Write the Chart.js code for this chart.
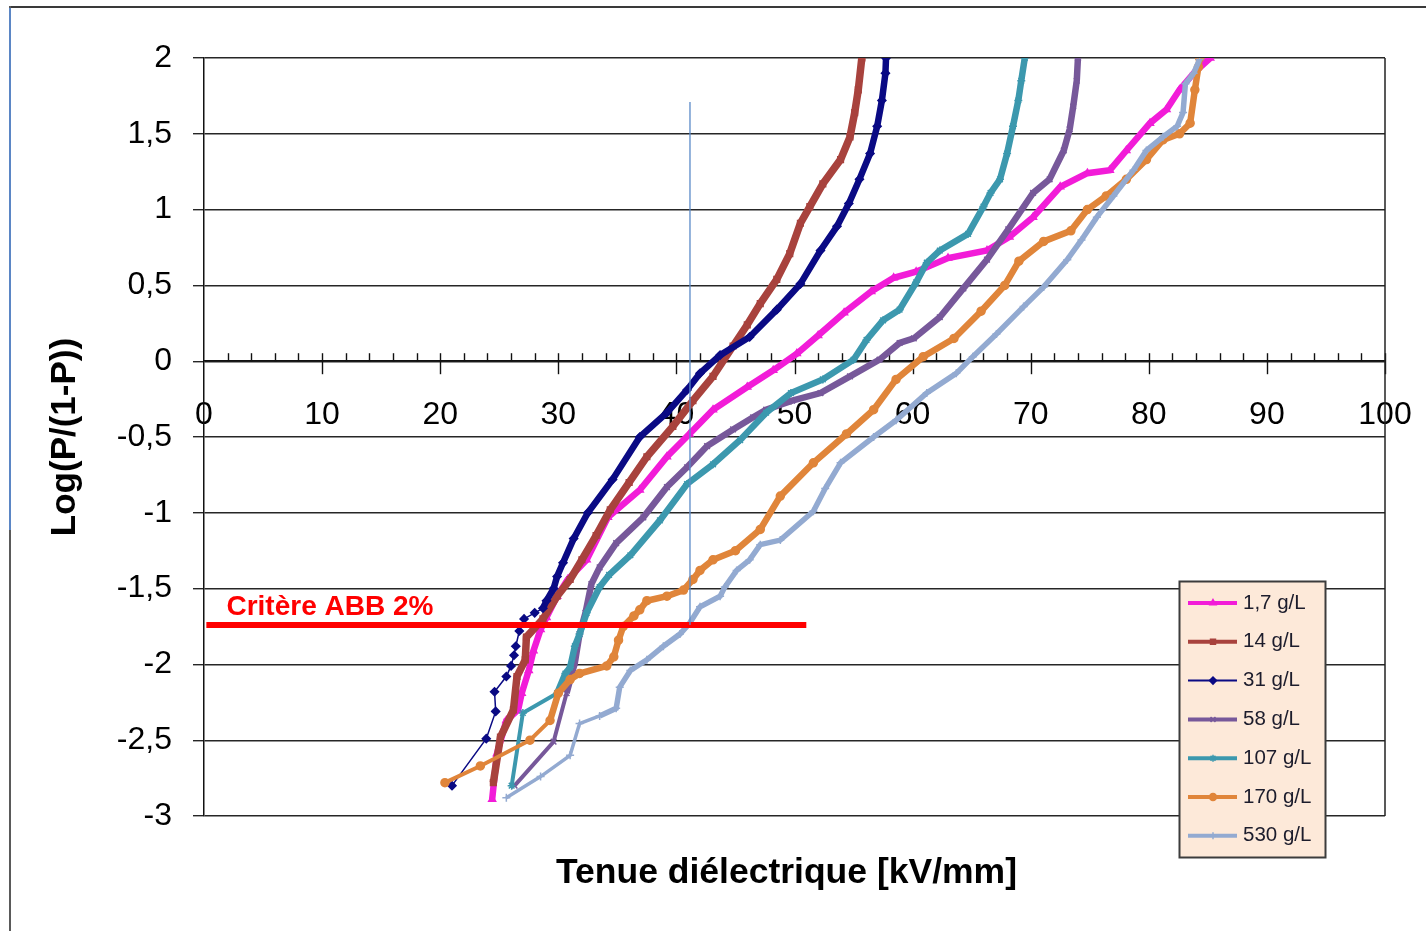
<!DOCTYPE html>
<html>
<head>
<meta charset="utf-8">
<script src="https://cdn.jsdelivr.net/npm/chart.js@4.4.1/dist/chart.umd.min.js"></script>
<style>
  html, body { margin: 0; padding: 0; background: #fff; }
  #wrap { position: relative; width: 1426px; height: 931px; overflow: hidden; background: #fff; }
  #wrap canvas { position: absolute; left: 0; top: 0; }
  .frame { position: absolute; }
  #frameTop { left: 9px; top: 6px; width: 1417px; height: 2px; background: #3a3a3a; }
  #frameLeft { left: 9px; top: 6px; width: 2px; height: 925px; background: #5a5a5a; }
  #frameLeftBlue { left: 9px; top: 8px; width: 2px; height: 522px; background: #5b86c5; }
</style>
</head>
<body>
<div id="wrap">
  <canvas id="myChart" width="1426" height="931"></canvas>
  <div class="frame" id="frameTop"></div>
  <div class="frame" id="frameLeft"></div>
  <div class="frame" id="frameLeftBlue"></div>
</div>
<script>
const seriesNames = ["1,7 g/L", "14 g/L", "31 g/L", "58 g/L", "107 g/L", "170 g/L", "530 g/L"];

// 1,7 g/L
const x17 = [24.4, 24.8, 25.6, 26.6, 26.9, 27.5, 27.9, 28.5, 29.0, 29.9, 30.8, 32.4, 34.2, 36.9, 39.2, 41.1, 43.1, 46.0, 48.2, 50.2, 52.0, 54.2, 56.5, 58.4, 60.3, 63.0, 66.3, 68.2, 70.2, 72.5, 74.8, 76.7, 78.1, 80.1, 81.5, 82.6, 83.8, 85.2];
const y17 = [-2.89, -2.59, -2.37, -2.30, -2.19, -2.04, -1.91, -1.77, -1.69, -1.55, -1.44, -1.31, -1.03, -0.85, -0.63, -0.48, -0.32, -0.17, -0.06, 0.05, 0.17, 0.32, 0.46, 0.55, 0.59, 0.68, 0.73, 0.82, 0.95, 1.15, 1.24, 1.26, 1.39, 1.57, 1.66, 1.79, 1.90, 2.0];

// 14 g/L
const x14 = [24.5, 25.1, 26.2, 26.5, 27.2, 27.3, 28.7, 29.9, 31.0, 32.0, 33.2, 34.4, 36.0, 37.5, 39.7, 41.4, 43.1, 44.8, 46.0, 47.1, 48.5, 49.6, 50.5, 51.3, 52.4, 53.9, 54.7, 55.1, 55.4, 55.7];
const y14 = [-2.78, -2.48, -2.30, -2.08, -1.97, -1.82, -1.70, -1.55, -1.44, -1.31, -1.15, -0.98, -0.80, -0.63, -0.43, -0.26, -0.10, 0.10, 0.24, 0.38, 0.54, 0.71, 0.91, 1.02, 1.17, 1.33, 1.48, 1.64, 1.79, 2.0];

// 31 g/L
const x31 = [21.0, 23.9, 24.7, 24.6, 25.6, 26.0, 26.25, 26.4, 26.7, 27.1, 28.0, 28.7, 29.0, 29.6, 29.9, 30.4, 31.3, 32.5, 34.6, 36.9, 39.2, 40.9, 42.0, 43.7, 46.2, 48.5, 50.5, 52.2, 53.6, 54.6, 55.5, 56.4, 57.0, 57.4, 57.7, 57.75];
const y31 = [-2.80, -2.49, -2.31, -2.18, -2.08, -2.01, -1.94, -1.88, -1.78, -1.70, -1.66, -1.63, -1.58, -1.50, -1.42, -1.33, -1.17, -1.0, -0.78, -0.50, -0.34, -0.19, -0.08, 0.04, 0.16, 0.34, 0.51, 0.73, 0.89, 1.04, 1.20, 1.37, 1.55, 1.72, 1.90, 2.0];

// 58 g/L
const x58 = [26.3, 29.6, 30.7, 31.4, 31.8, 32.3, 32.8, 33.5, 34.9, 37.2, 39.2, 40.9, 42.6, 44.8, 46.5, 47.6, 49.8, 52.2, 54.7, 57.2, 58.9, 60.1, 62.3, 64.3, 66.3, 68.1, 70.2, 71.6, 72.8, 73.3, 73.6, 73.9, 74.0];
const y58 = [-2.80, -2.51, -2.19, -1.99, -1.80, -1.66, -1.47, -1.36, -1.20, -1.03, -0.83, -0.70, -0.56, -0.45, -0.37, -0.32, -0.26, -0.21, -0.10, 0.01, 0.12, 0.15, 0.29, 0.48, 0.67, 0.87, 1.11, 1.20, 1.39, 1.53, 1.68, 1.85, 2.0];

// 107 g/L
const x107 = [26.05, 27.0, 29.9, 30.6, 31.0, 31.4, 31.8, 32.4, 33.5, 34.3, 36.1, 38.6, 40.9, 43.1, 45.4, 47.6, 49.7, 52.4, 55.0, 56.1, 57.5, 58.9, 60.3, 61.2, 62.3, 64.7, 66.0, 66.6, 67.4, 68.0, 68.5, 68.95, 69.2, 69.5];
const y107 = [-2.80, -2.32, -2.19, -2.06, -2.02, -1.88, -1.80, -1.66, -1.49, -1.41, -1.28, -1.05, -0.81, -0.68, -0.52, -0.34, -0.21, -0.12, 0.01, 0.14, 0.27, 0.34, 0.52, 0.65, 0.73, 0.84, 1.02, 1.11, 1.20, 1.37, 1.55, 1.72, 1.85, 2.0];

// 170 g/L
const x170 = [20.4, 23.4, 27.6, 29.3, 30.0, 31.0, 31.8, 34.1, 34.7, 35.1, 35.5, 36.4, 36.9, 37.5, 39.2, 40.6, 41.4, 42.0, 43.1, 45.0, 47.1, 48.8, 51.6, 54.4, 56.7, 58.6, 60.9, 63.5, 65.8, 67.8, 69.0, 71.1, 73.4, 74.8, 76.4, 78.1, 79.8, 81.2, 82.6, 83.5, 83.9, 84.2, 84.3];
const y170 = [-2.78, -2.67, -2.50, -2.37, -2.19, -2.10, -2.06, -2.01, -1.95, -1.84, -1.75, -1.68, -1.64, -1.58, -1.55, -1.51, -1.44, -1.38, -1.31, -1.25, -1.11, -0.89, -0.67, -0.48, -0.32, -0.12, 0.03, 0.15, 0.33, 0.50, 0.66, 0.79, 0.86, 1.0, 1.09, 1.20, 1.33, 1.46, 1.50, 1.57, 1.79, 1.94, 2.0];

// 530 g/L
const x530 = [25.6, 28.5, 31.0, 31.8, 33.5, 34.9, 35.2, 36.1, 37.5, 38.9, 40.3, 41.1, 42.0, 43.7, 44.1, 45.1, 46.2, 47.1, 48.8, 51.6, 52.6, 53.9, 56.7, 58.6, 61.2, 63.7, 65.1, 67.1, 69.4, 71.1, 73.1, 74.3, 75.6, 77.0, 78.7, 79.8, 81.2, 82.4, 82.9, 83.1, 83.8, 84.3];
const y530 = [-2.88, -2.74, -2.60, -2.39, -2.34, -2.29, -2.15, -2.04, -1.97, -1.88, -1.80, -1.73, -1.62, -1.55, -1.49, -1.38, -1.31, -1.21, -1.18, -0.99, -0.84, -0.67, -0.50, -0.39, -0.21, -0.08, 0.03, 0.18, 0.36, 0.49, 0.67, 0.80, 0.95, 1.09, 1.26, 1.39, 1.48, 1.55, 1.64, 1.83, 1.90, 1.99];

// critère ABB 2% et repère vertical
const abbX = [0.2, 51];
const abbY = [-1.74, -1.74];
const markX = [41.15, 41.15];
const markY = [1.71, -1.74];

const xMin = 0, xMax = 100, xStep = 10, xMinorStep = 2;
const yMin = -3, yMax = 2, yStep = 0.5;

const seriesX = [x17, x14, x31, x58, x107, x170, x530];
const seriesY = [y17, y14, y31, y58, y107, y170, y530];

const styles = [
  { color: "#f21cd8", point: "triangle", width: 6.5, radius: 4 },
  { color: "#a8423d", point: "rect", width: 7.5, radius: 4 },
  { color: "#0a0a84", point: "rectRot", width: 6.5, radius: 4, thinBelow: -1.62, thin: 1.5 },
  { color: "#77589a", point: "crossRot", width: 6.5, radius: 4, thinBelow: -2.15, thin: 4 },
  { color: "#3c98ae", point: "star", width: 6.5, radius: 4, thinBelow: -2.15, thin: 4 },
  { color: "#e0853a", point: "circle", width: 6.5, radius: 4, thinBelow: -2.2, thin: 4 },
  { color: "#93aad1", point: "cross", width: 5.5, radius: 4, thinBelow: -2.3, thin: 3.5 },
];

const FONT = "'Liberation Sans', Arial, sans-serif";

const toPoints = (xs, ys) => xs.map((x, i) => ({ x: x, y: ys[i] }));

const datasets = seriesNames.map((name, i) => {
  const st = styles[i];
  return {
    label: name,
    data: toPoints(seriesX[i], seriesY[i]),
    borderColor: st.color,
    backgroundColor: st.color,
    borderWidth: st.width,
    pointStyle: st.point,
    pointRadius: st.radius,
    pointBorderWidth: 1.5,
    pointBackgroundColor: st.color,
    pointBorderColor: st.color,
    tension: 0,
    order: 20 - i,
    segment: {
      borderWidth: (c) =>
        st.thinBelow !== undefined && Math.max(c.p0.parsed.y, c.p1.parsed.y) < st.thinBelow ? st.thin : st.width,
    },
  };
});

datasets.push({
  label: "Critère ABB 2%",
  data: toPoints(abbX, abbY),
  borderColor: "#ff0000",
  borderWidth: 6,
  pointRadius: 0,
  order: 1,
});
datasets.push({
  label: "repere",
  data: toPoints(markX, markY),
  borderColor: "#5b8ac8",
  borderWidth: 1.3,
  pointRadius: 0,
  order: 0,
});

// petits traits de graduation sur l'axe horizontal (y = 0)
const axisTicks = {
  id: "axisTicks",
  beforeDatasetsDraw(chart) {
    const { ctx, chartArea, scales } = chart;
    const x = scales.x;
    const y = scales.y;
    const py = y.getPixelForValue(0);
    ctx.save();
    ctx.strokeStyle = "#111";
    ctx.lineWidth = 1.4;
    for (let v = xMin + xMinorStep; v <= xMax; v += xMinorStep) {
      const px = Math.round(x.getPixelForValue(v)) + 0.5;
      ctx.beginPath();
      ctx.moveTo(px, py - 8);
      ctx.lineTo(px, v % xStep === 0 ? py + 13 : py);
      ctx.stroke();
    }
    // bord droit de la zone de tracé
    ctx.strokeStyle = "#222";
    ctx.lineWidth = 1.5;
    ctx.beginPath();
    ctx.moveTo(chartArea.right, chartArea.top);
    ctx.lineTo(chartArea.right, chartArea.bottom);
    ctx.stroke();
    ctx.restore();
  },
};

// légende, titre de l'axe x, texte du critère
const extras = {
  id: "extras",
  afterDraw(chart) {
    const { ctx, chartArea, scales } = chart;
    ctx.save();

    // titre axe x
    ctx.fillStyle = "#000";
    ctx.font = "bold 35.5px " + FONT;
    ctx.textAlign = "center";
    ctx.textBaseline = "alphabetic";
    ctx.fillText("Tenue diélectrique [kV/mm]", (chartArea.left + chartArea.right) / 2 - 8, 883);

    // texte critère
    ctx.fillStyle = "#ff0000";
    ctx.font = "bold 28px " + FONT;
    ctx.textAlign = "left";
    ctx.fillText("Critère ABB 2%", scales.x.getPixelForValue(1.9), 615);

    // légende
    const bx = 1179.5, by = 581.5, bw = 146, bh = 276;
    ctx.fillStyle = "#fde9d9";
    ctx.fillRect(bx, by, bw, bh);
    ctx.strokeStyle = "#3c3c3c";
    ctx.lineWidth = 2;
    ctx.strokeRect(bx, by, bw, bh);

    ctx.font = "20.5px " + FONT;
    ctx.textBaseline = "middle";
    seriesNames.forEach((name, i) => {
      const st = styles[i];
      const cy = 603 + i * 38.8;
      ctx.strokeStyle = st.color;
      ctx.lineWidth = i === 2 ? 2 : 4;
      ctx.beginPath();
      ctx.moveTo(1188, cy);
      ctx.lineTo(1237, cy);
      ctx.stroke();
      if (Chart.helpers && Chart.helpers.drawPoint) {
        ctx.fillStyle = st.color;
        ctx.lineWidth = 1.5;
        Chart.helpers.drawPoint(ctx, { pointStyle: st.point, radius: 3.5, rotation: 0, borderWidth: 1.5 }, 1213, cy);
      }
      ctx.fillStyle = "#1c1c2c";
      ctx.fillText(name, 1243, cy);
    });
    ctx.restore();
  },
};

const ctx = document.getElementById("myChart").getContext("2d");
new Chart(ctx, {
  type: "line",
  data: { datasets: datasets },
  options: {
    responsive: false,
    animation: false,
    devicePixelRatio: 1,
    layout: { padding: { left: 0, top: 58, right: 41, bottom: 115 } },
    plugins: {
      legend: { display: false },
      tooltip: { enabled: false },
    },
    scales: {
      x: {
        type: "linear",
        min: xMin,
        max: xMax,
        position: { y: 0 },
        afterFit: (s) => { s.paddingLeft = 0; s.paddingRight = 0; },
        grid: { display: false, drawTicks: false },
        border: { display: true, color: "#111", width: 1.5 },
        ticks: {
          stepSize: xStep,
          padding: 35,
          color: "#000",
          font: { family: FONT, size: 32 },
        },
      },
      y: {
        type: "linear",
        min: yMin,
        max: yMax,
        position: "left",
        afterFit: (s) => { s.width = 204; s.paddingTop = 0; s.paddingBottom = 0; },
        grid: { color: "#262626", lineWidth: 1.4, tickLength: 11 },
        border: { display: true, color: "#111", width: 1.5 },
        ticks: {
          stepSize: yStep,
          padding: 21,
          color: "#000",
          font: { family: FONT, size: 32 },
          callback: (v) => String(v).replace(".", ","),
        },
        title: {
          display: true,
          text: "Log(P/(1-P))",
          color: "#000",
          font: { family: FONT, size: 35, weight: "bold", lineHeight: 1.2 },
          padding: { top: 44, bottom: 0 },
        },
      },
    },
  },
  plugins: [axisTicks, extras],
});
</script>
</body>
</html>
